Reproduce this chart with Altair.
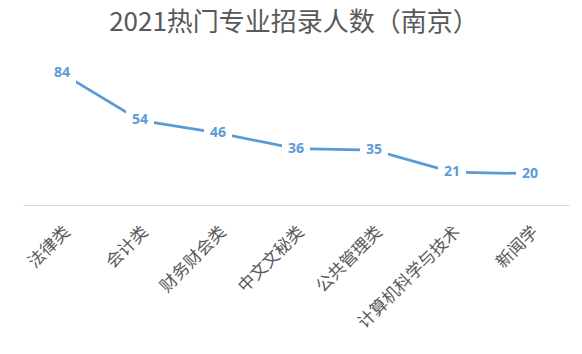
import altair as alt
import pandas as pd

categories = ["法律类", "会计类", "财务财会类", "中文文秘类", "公共管理类", "计算机科学与技术", "新闻学"]
values = [84, 54, 46, 36, 35, 21, 20]
title_text = "2021热门专业招录人数（南京）"

df = pd.DataFrame({"cat": categories, "val": values})

x = alt.X("cat:N", sort=categories, title=None,
          scale=alt.Scale(type="point", padding=0.5),
          axis=alt.Axis(labelAngle=-45, labelAlign="right", labelBaseline="middle",
                        labelPadding=24, labelOffset=5, ticks=False, domainColor="#d9d9d9",
                        domainWidth=1, labelFont="Noto Sans CJK SC", labelFontSize=17,
                        labelColor="#595959", grid=False, labelOverlap=False))
y = alt.Y("val:Q", title=None, scale=alt.Scale(domain=[0, 90], nice=False), axis=None)

base = alt.Chart(df)

line = base.mark_line(color="#5B9BD5", strokeWidth=2.75).encode(x=x, y=y)
mask = base.mark_point(shape="square", filled=True, color="white", opacity=1,
                       size=784, strokeWidth=0).encode(x=x, y=y)
labels = base.mark_text(font="Open Sans", fontSize=14, fontWeight="bold",
                        color="#5B9BD5", align="center", baseline="middle").encode(
    x=x, y=y, text="val:Q")

chart = alt.layer(line, mask, labels).properties(
    width=546, height=141,
    background="white",
    title=alt.TitleParams(title_text, fontSize=26, color="#595959",
                          font="Noto Sans CJK SC", fontWeight="normal",
                          anchor="middle", baseline="alphabetic", offset=2, dx=-2),
    autosize=alt.AutoSizeParams(type="none"),
    padding={"left": 23, "top": 64, "right": 13, "bottom": 149},
).configure_view(stroke=None, strokeWidth=0)

chart.save("out.html", embed_options={"renderer": "svg", "actions": False})
